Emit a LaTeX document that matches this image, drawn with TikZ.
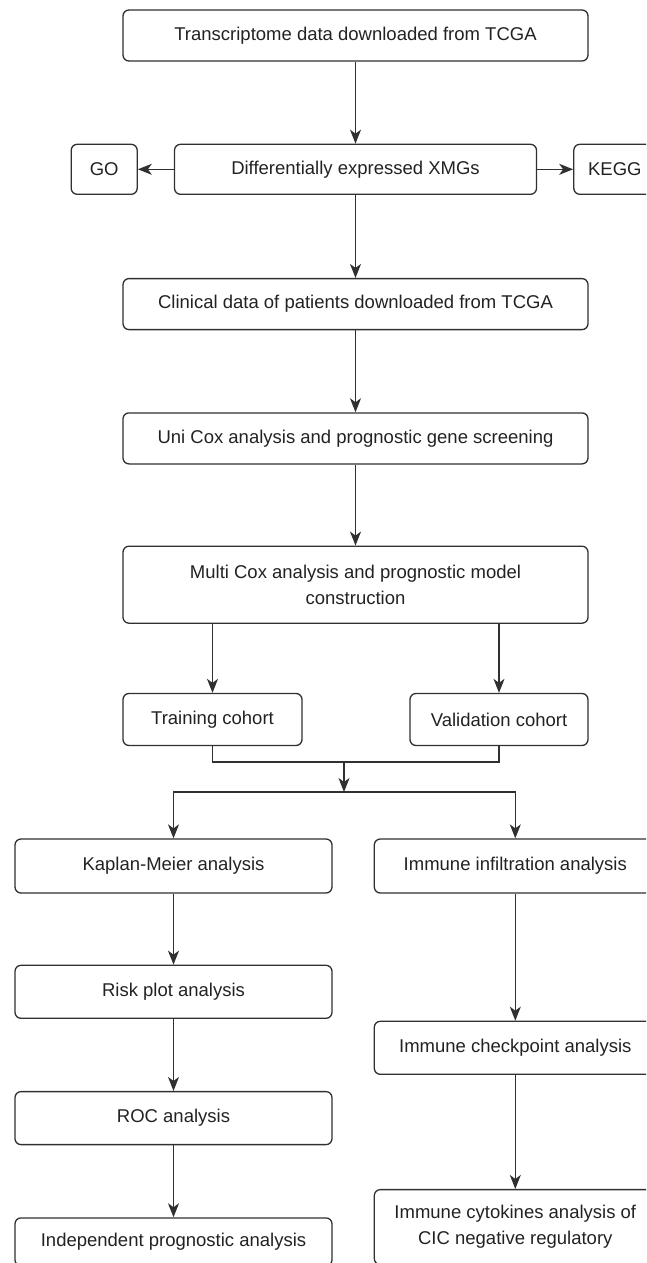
\documentclass[tikz,border=0pt]{standalone}
\usepackage{fontspec}
\setmainfont{Liberation Sans}
\usetikzlibrary{positioning,arrows.meta}

\definecolor{linegray}{HTML}{303030}
\definecolor{textgray}{HTML}{222222}

\tikzset{
  flowbox/.style = {draw=linegray, line width=1.3pt, rounded corners=6pt, inner sep=0pt,
    align=center, minimum height=51pt, text=textgray, font=\fontsize{18.5}{26}\selectfont},
  flowarrow/.style = {draw=linegray, line width=1.3pt, -{Stealth[length=14pt, width=11pt, inset=4pt]}},
  flowline/.style = {draw=linegray, line width=1.3pt},
}

\begin{document}
\begin{tikzpicture}[x=1pt, y=-1pt]
    \useasboundingbox (0,0) rectangle (646,1263);
    \clip (0,0) rectangle (646,1263);

    \node[flowbox, minimum width=465pt] (tcga) at (355.5,35.5) {Transcriptome data downloaded from TCGA};
    \node[flowbox, minimum width=362pt, minimum height=50pt, below=82pt of tcga] (deg) {Differentially expressed XMGs};
    \node[flowbox, minimum width=66pt, minimum height=50pt, left=36pt of deg] (go) {GO};
    \node[flowbox, minimum width=82pt, minimum height=50pt, right=36pt of deg] (kegg) {KEGG};
    \node[flowbox, minimum width=465pt, below=83pt of deg] (clin) {Clinical data of patients downloaded from TCGA};
    \node[flowbox, minimum width=465pt, below=82pt of clin] (unicox) {Uni Cox analysis and prognostic gene screening};
    \node[flowbox, minimum width=465pt, minimum height=77pt, below=81pt of unicox] (multi) {Multi Cox analysis and prognostic model\\construction};

    \node[flowbox, minimum width=179pt, minimum height=52pt, below=69pt of multi.south west, anchor=north west] (train) {Training cohort};
    \node[flowbox, minimum width=178pt, minimum height=52pt, below=69pt of multi.south east, anchor=north east] (valid) {Validation cohort};
    \coordinate (join) at (344,762);
    \coordinate (split) at (344,792);

    \node[flowbox, minimum width=317pt, minimum height=54pt] (km) at (173.5,866) {Kaplan-Meier analysis};
    \node[flowbox, minimum width=282pt, minimum height=54pt, right=41pt of km] (immune) {Immune infiltration analysis};
    \node[flowbox, minimum width=317pt, minimum height=53pt, below=71pt of km] (risk) {Risk plot analysis};
    \node[flowbox, minimum width=317pt, minimum height=53pt, below=72pt of risk] (roc) {ROC analysis};
    \node[flowbox, minimum width=317pt, minimum height=48pt, below=72pt of roc] (indep) {Independent prognostic analysis};
    \node[flowbox, minimum width=282pt, minimum height=53pt, below=127pt of immune] (check) {Immune checkpoint analysis};
    \node[flowbox, minimum width=282pt, minimum height=75pt, below=114pt of check] (cyto) {Immune cytokines analysis of\\CIC negative regulatory};

    \draw[flowarrow] (tcga) -- (deg);
    \draw[flowarrow] (deg) -- (go);
    \draw[flowarrow] (deg) -- (kegg);
    \draw[flowarrow] (deg) -- (clin);
    \draw[flowarrow] (clin) -- (unicox);
    \draw[flowarrow] (unicox) -- (multi);
    \draw[flowarrow] (multi.south -| train) -- (train);
    \draw[flowarrow] (multi.south -| valid) -- (valid);
    \draw[flowline] (train) |- (join) -| (valid);
    \draw[flowarrow] (join) -- (split);
    \draw[flowarrow] (split) -| (km);
    \draw[flowarrow] (split) -| (immune);
    \draw[flowarrow] (km) -- (risk);
    \draw[flowarrow] (risk) -- (roc);
    \draw[flowarrow] (roc) -- (indep);
    \draw[flowarrow] (immune) -- (check);
    \draw[flowarrow] (check) -- (cyto);
\end{tikzpicture}
\end{document}
